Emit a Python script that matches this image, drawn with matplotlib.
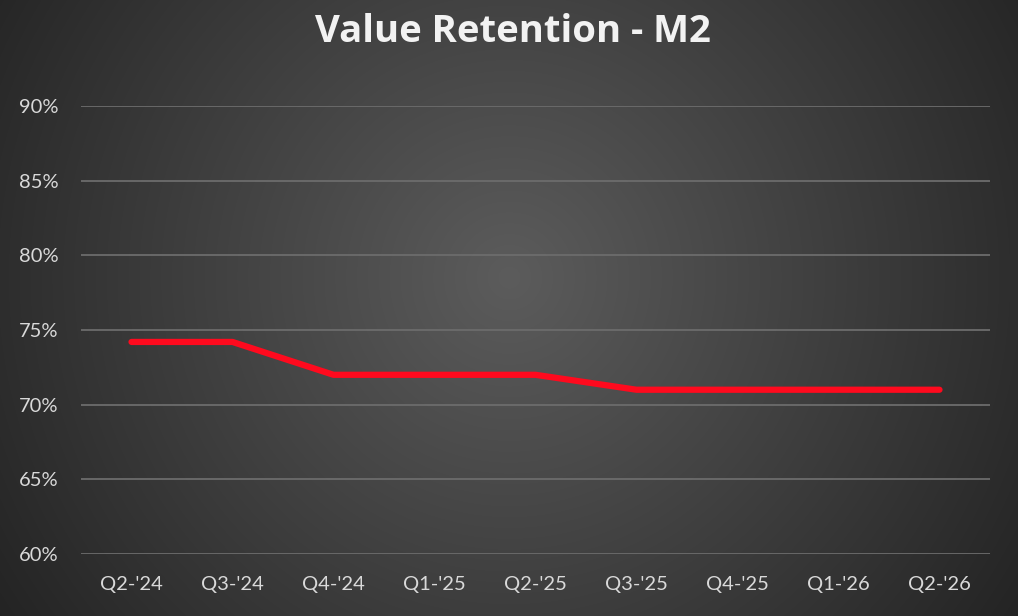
import numpy as np
import matplotlib
matplotlib.use("Agg")
import matplotlib.pyplot as plt
from matplotlib.ticker import FuncFormatter

categories = ["Q2-'24", "Q3-'24", "Q4-'24", "Q1-'25", "Q2-'25", "Q3-'25", "Q4-'25", "Q1-'26", "Q2-'26"]
retention = [74.2, 74.2, 72.0, 72.0, 72.0, 71.0, 71.0, 71.0, 71.0]
y_ticks = [60, 65, 70, 75, 80, 85, 90]

plt.rcParams['font.family'] = ['Lato', 'DejaVu Sans']

W, H = 1018, 616
fig = plt.figure(figsize=(W / 100, H / 100), dpi=100)

# radial gradient background
bg = fig.add_axes([0, 0, 1, 1], zorder=0)
yy, xx = np.mgrid[0:H, 0:W]
cx, cy = W * 0.5, H * 0.45
r = np.sqrt(((xx - cx) / (W * 0.62)) ** 2 + ((yy - cy) / (W * 0.62)) ** 2)
r = np.clip(r, 0, 1)
inner, outer = 0x5c / 255, 0x22 / 255
val = inner + (outer - inner) * r
img = np.dstack([val, val, val])
bg.imshow(img, aspect='auto', extent=[0, 1, 0, 1])
bg.axis('off')

ax = fig.add_axes([81 / W, 1 - 554 / H, (990 - 81) / W, (554 - 106) / H], zorder=1)
ax.patch.set_alpha(0)
x = np.arange(len(categories))
ax.plot(x, retention, color='#ff0a1e', linewidth=4.5, solid_capstyle='round', solid_joinstyle='round', zorder=3)

ax.set_xlim(-0.5, len(categories) - 0.5)
ax.set_ylim(60, 90)
ax.set_yticks(y_ticks)
ax.yaxis.set_major_formatter(FuncFormatter(lambda v, p: f"{v:.0f}%"))
ax.set_xticks(x)
ax.set_xticklabels(categories)
ax.grid(axis='y', color='#6c6c6c', linewidth=1.3, zorder=1)
ax.set_axisbelow(True)
for s in ax.spines.values():
    s.set_visible(False)
ax.tick_params(axis='both', length=0, colors='#d9d9d9', labelsize=14.5)
ax.tick_params(axis='y', pad=16)
ax.tick_params(axis='x', pad=16)

fig.text(513 / W, 1 - 32 / H, "Value Retention - M2", ha='center', va='center',
         color='#f2f2f2', fontsize=27.5, fontweight='bold', family=['Open Sans', 'DejaVu Sans'])

fig.savefig("out.png", dpi=100)
